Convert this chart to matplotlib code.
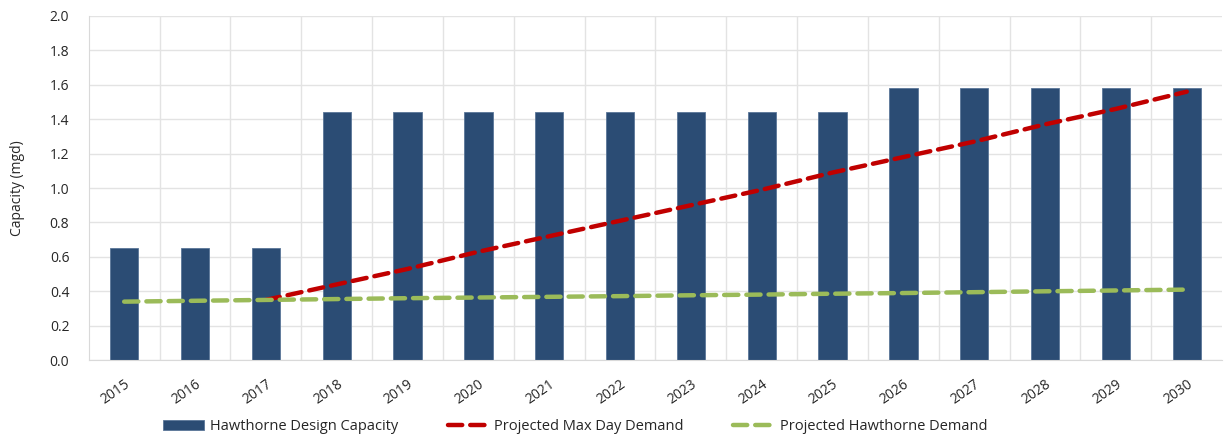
import numpy as np
import matplotlib
matplotlib.use("Agg")
import matplotlib.pyplot as plt
from matplotlib.ticker import MultipleLocator, FixedLocator

plt.rcParams['font.family'] = ['Open Sans', 'DejaVu Sans']
plt.rcParams['font.size'] = 10

years = [str(y) for y in range(2015, 2031)]
design_capacity = [0.65, 0.65, 0.65, 1.44, 1.44, 1.44, 1.44, 1.44, 1.44, 1.44, 1.44,
                   1.58, 1.58, 1.58, 1.58, 1.58]
# max day demand only drawn from 2017 on
max_day_years = years[2:]
max_day_demand = [0.35, 0.44, 0.53, 0.63, 0.72, 0.81, 0.90, 0.99, 1.09, 1.18, 1.27,
                  1.37, 1.46, 1.56]
hawthorne_demand = [0.34, 0.345, 0.35, 0.355, 0.36, 0.364, 0.368, 0.372, 0.377, 0.381,
                    0.386, 0.39, 0.395, 0.40, 0.405, 0.41]

x = np.arange(len(years))
xm = x[2:]

fig = plt.figure(figsize=(12.24, 4.43), dpi=100)
ax = fig.add_axes([0.0725, 0.187, 0.926, 0.777])

b = ax.bar(x, design_capacity, width=0.4, color='#2B4C74', edgecolor='#5A7698', lw=0.6,
           label='Hawthorne Design Capacity', zorder=2)
l1, = ax.plot(xm, max_day_demand, color='#C00000', lw=3.2, ls=(0, (3.2, 1.8)),
              dash_capstyle='round', label='Projected Max Day Demand', zorder=3)
l2, = ax.plot(x, hawthorne_demand, color='#9BBB59', lw=3.2, ls=(0, (3.2, 1.8)),
              dash_capstyle='round', label='Projected Hawthorne Demand', zorder=3)

ax.set_xlim(-0.5, len(years) - 0.5)
ax.set_ylim(0, 2.0)
ax.yaxis.set_major_locator(MultipleLocator(0.2))
ax.yaxis.set_major_formatter(matplotlib.ticker.FormatStrFormatter('%.1f'))
ax.set_xticks(x)
ax.set_xticklabels(years, rotation=35, ha='right', rotation_mode='anchor')
ax.xaxis.set_minor_locator(FixedLocator(x[:-1] + 0.5))
ax.tick_params(axis='both', which='both', length=0, colors='#262626', labelsize=10)
ax.tick_params(axis='x', pad=12)
ax.tick_params(axis='y', pad=14)
ax.grid(axis='y', which='major', color='#E3E3E3', lw=1, zorder=0)
ax.grid(axis='x', which='minor', color='#E3E3E3', lw=1, zorder=0)
ax.set_axisbelow(True)
for s in ['top', 'right']:
    ax.spines[s].set_visible(False)
ax.spines['left'].set_color('#D9D9D9')
ax.spines['bottom'].set_color('#D9D9D9')
ax.set_ylabel('Capacity (mgd)', fontsize=10, color='#262626', labelpad=18)

leg = fig.legend([b, l1, l2], [b.get_label(), l1.get_label(), l2.get_label()],
                 loc='lower center', bbox_to_anchor=(0.47, -0.01), ncol=3, frameon=False,
                 fontsize=10.5, handlelength=2.8, columnspacing=3.4, handletextpad=0.4)
for t in leg.get_texts():
    t.set_color('#262626')

fig.savefig('out.png', dpi=100)
